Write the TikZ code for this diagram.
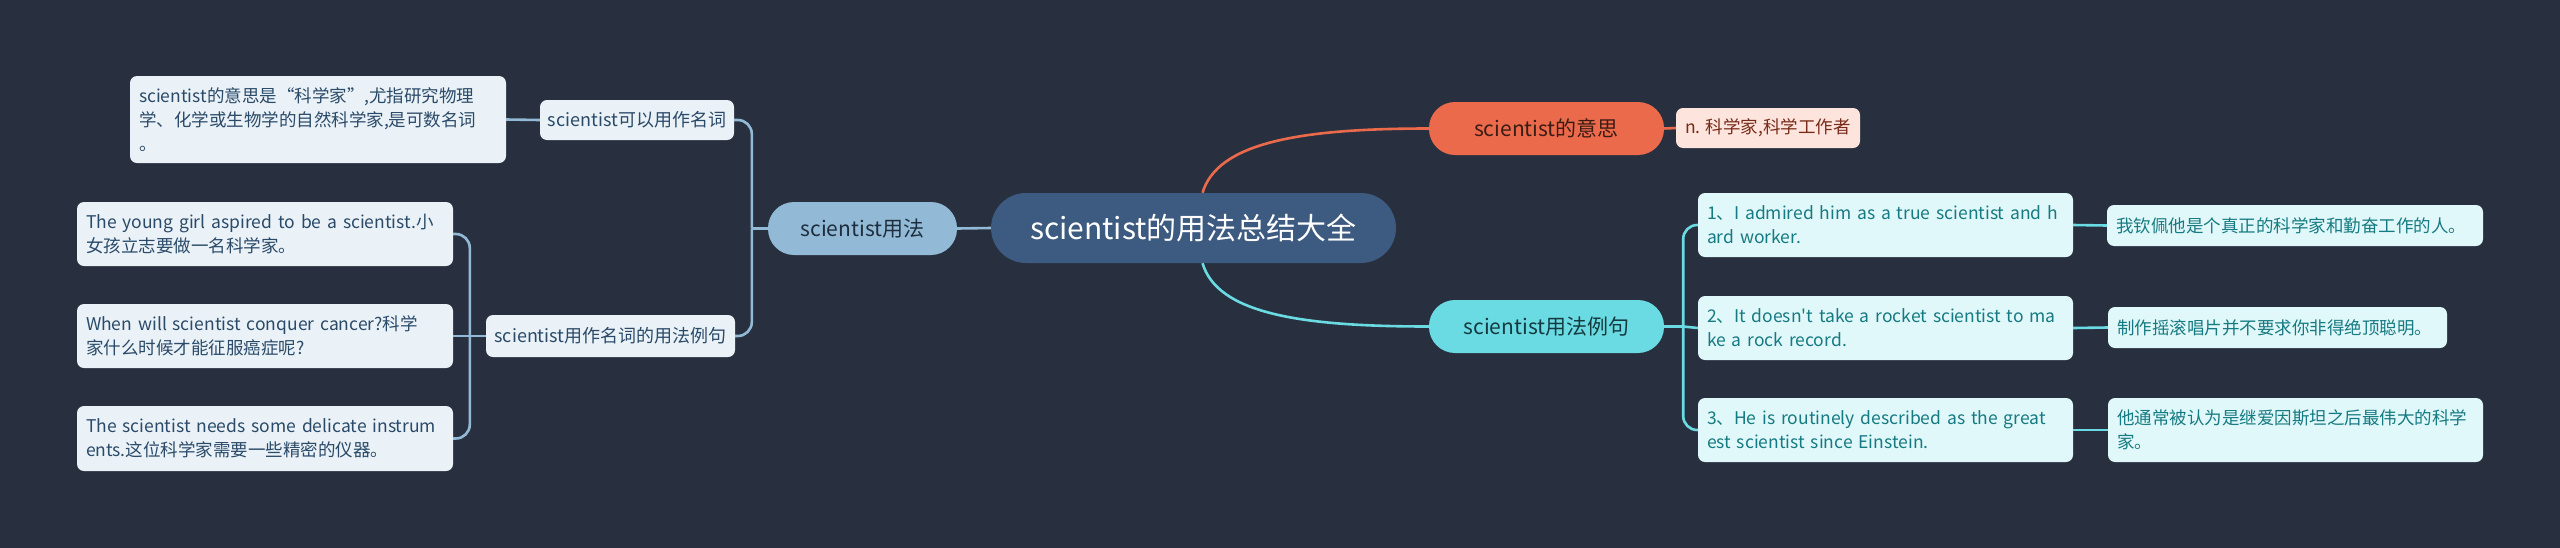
\documentclass[tikz,border=0pt]{standalone}
\usepackage{fontspec}
\setmainfont{Noto Sans CJK SC}[Ligatures=TeXOff]
\definecolor{sciBackground}{RGB}{40,48,63}
\definecolor{sciRoot}{RGB}{61,90,128}
\definecolor{sciUsage}{RGB}{146,186,214}
\definecolor{sciUsageText}{RGB}{30,46,62}
\definecolor{sciPale}{RGB}{234,242,248}
\definecolor{sciPaleText}{RGB}{42,74,104}
\definecolor{sciMeaning}{RGB}{236,106,76}
\definecolor{sciMeaningText}{RGB}{58,28,20}
\definecolor{sciRose}{RGB}{253,228,220}
\definecolor{sciRoseText}{RGB}{120,42,24}
\definecolor{sciExample}{RGB}{106,219,226}
\definecolor{sciExampleText}{RGB}{20,58,64}
\definecolor{sciAqua}{RGB}{224,248,249}
\definecolor{sciAquaText}{RGB}{22,122,130}

\begin{document}
\begin{tikzpicture}[x=1pt,y=-1pt,
      root/.style={fill=sciRoot, text=white, rounded corners=35pt,
        font=\fontsize{30}{34}\selectfont, inner sep=0pt},
      topic/.style={rounded corners=26pt, inner sep=0pt,
        font=\fontsize{21}{26}\selectfont},
      label/.style={rounded corners=7pt, inner sep=0pt,
        font=\fontsize{18}{22}\selectfont},
      leaf/.style={rounded corners=7pt, inner xsep=9pt, inner ysep=0pt,
        align=left, font=\fontsize{17.5}{24}\selectfont},
      paleLink/.style={draw=sciUsage, line width=2.6pt},
      roseLink/.style={draw=sciMeaning, line width=2.6pt},
      aquaLink/.style={draw=sciExample, line width=2.6pt}]
      \useasboundingbox (0,0) rectangle (2560,547);
      \fill[sciBackground] (-5,-5) rectangle (2565,552);

      \node[root, minimum width=405pt, minimum height=70pt]
        (root) at (1193.5,228) {scientist的用法总结大全};

      \node[topic, fill=sciUsage, text=sciUsageText,
        minimum width=189pt, minimum height=53pt]
        (usage) at (862.5,228.5) {scientist用法};
      \node[label, fill=sciPale, text=sciPaleText,
        minimum width=194pt, minimum height=40pt]
        (nounUse) at (637,120) {scientist可以用作名词};
      \node[leaf, fill=sciPale, text=sciPaleText,
        text width=358pt, minimum height=87pt]
        (nounNote) at (318,119.5)
        {scientist的意思是“科学家”,尤指研究物理\\学、化学或生物学的自然科学家,是可数名词\\。};
      \node[label, fill=sciPale, text=sciPaleText,
        minimum width=249pt, minimum height=42pt]
        (exampleUse) at (610.5,336) {scientist用作名词的用法例句};
      \node[leaf, fill=sciPale, text=sciPaleText,
        text width=358pt, minimum height=64pt]
        (girl) at (265,234)
        {The young girl aspired to be a scientist.小\\女孩立志要做一名科学家。};
      \node[leaf, fill=sciPale, text=sciPaleText,
        text width=358pt, minimum height=64pt]
        (cancer) at (265,336)
        {When will scientist conquer cancer?科学\\家什么时候才能征服癌症呢?};
      \node[leaf, fill=sciPale, text=sciPaleText,
        text width=358pt, minimum height=65pt]
        (instruments) at (265,438.5)
        {The scientist needs some delicate instrum\\ents.这位科学家需要一些精密的仪器。};

      \node[topic, fill=sciMeaning, text=sciMeaningText,
        minimum width=235pt, minimum height=53pt]
        (meaning) at (1546.5,128.5) {scientist的意思};
      \node[label, fill=sciRose, text=sciRoseText,
        font=\fontsize{17.5}{22}\selectfont,
        minimum width=184pt, minimum height=40pt]
        (definition) at (1768,128) {n. 科学家,科学工作者};

      \node[topic, fill=sciExample, text=sciExampleText,
        minimum width=235pt, minimum height=53pt]
        (examples) at (1546.5,326.5) {scientist用法例句};
      \node[leaf, fill=sciAqua, text=sciAquaText,
        text width=357pt, minimum height=64pt]
        (admired) at (1885.5,225)
        {1、I admired him as a true scientist and h\\ard worker.};
      \node[leaf, fill=sciAqua, text=sciAquaText,
        text width=357pt, minimum height=64pt]
        (rocket) at (1885.5,328)
        {2、It doesn't take a rocket scientist to ma\\ke a rock record.};
      \node[leaf, fill=sciAqua, text=sciAquaText,
        text width=357pt, minimum height=64pt]
        (einstein) at (1885.5,430)
        {3、He is routinely described as the great\\est scientist since Einstein.};
      \node[leaf, fill=sciAqua, text=sciAquaText,
        text width=358pt, minimum height=41pt]
        (admiredZh) at (2295,225.5) {我钦佩他是个真正的科学家和勤奋工作的人。};
      \node[leaf, fill=sciAqua, text=sciAquaText,
        text width=321pt, minimum height=41pt]
        (rocketZh) at (2277.5,327.5) {制作摇滚唱片并不要求你非得绝顶聪明。};
      \node[leaf, fill=sciAqua, text=sciAquaText,
        text width=357pt, minimum height=64pt]
        (einsteinZh) at (2295.5,430) {他通常被认为是继爱因斯坦之后最伟大的科学\\家。};

      \coordinate (usageFork) at ([xshift=-16pt]usage.west);
      \coordinate (exampleFork) at ([xshift=-16pt]exampleUse.west);
      \coordinate (examplesFork) at ([xshift=19pt]examples.east);

      \draw[paleLink] (root.west) -- (usage.east);
      \draw[paleLink] (usage.west) -- (usageFork);
      \draw[paleLink, rounded corners=14pt] (usageFork) |- (nounUse.east);
      \draw[paleLink, rounded corners=14pt] (usageFork) |- (exampleUse.east);
      \draw[paleLink] (nounNote.east) -- (nounUse.west);
      \draw[paleLink] (exampleUse.west) -- (exampleFork);
      \draw[paleLink, rounded corners=14pt] (exampleFork) |- (girl.east);
      \draw[paleLink] (exampleFork) -- (cancer.east);
      \draw[paleLink, rounded corners=14pt] (exampleFork) |- (instruments.east);

      \draw[roseLink] ([xshift=9pt]root.north)
        .. controls +(15,-50) and +(-130,0) .. (meaning.west);
      \draw[roseLink] (meaning.east) -- (definition.west);

      \draw[aquaLink] ([xshift=9pt]root.south)
        .. controls +(15,50) and +(-130,0) .. (examples.west);
      \draw[aquaLink] (examples.east) -- (examplesFork);
      \draw[aquaLink, rounded corners=14pt] (examplesFork) |- (admired.west);
      \draw[aquaLink] (examplesFork) -- (rocket.west);
      \draw[aquaLink, rounded corners=14pt] (examplesFork) |- (einstein.west);
      \draw[aquaLink] (admired.east) -- (admiredZh.west);
      \draw[aquaLink] (rocket.east) -- (rocketZh.west);
      \draw[aquaLink] (einstein.east) -- (einsteinZh.west);
    \end{tikzpicture}
\end{document}
